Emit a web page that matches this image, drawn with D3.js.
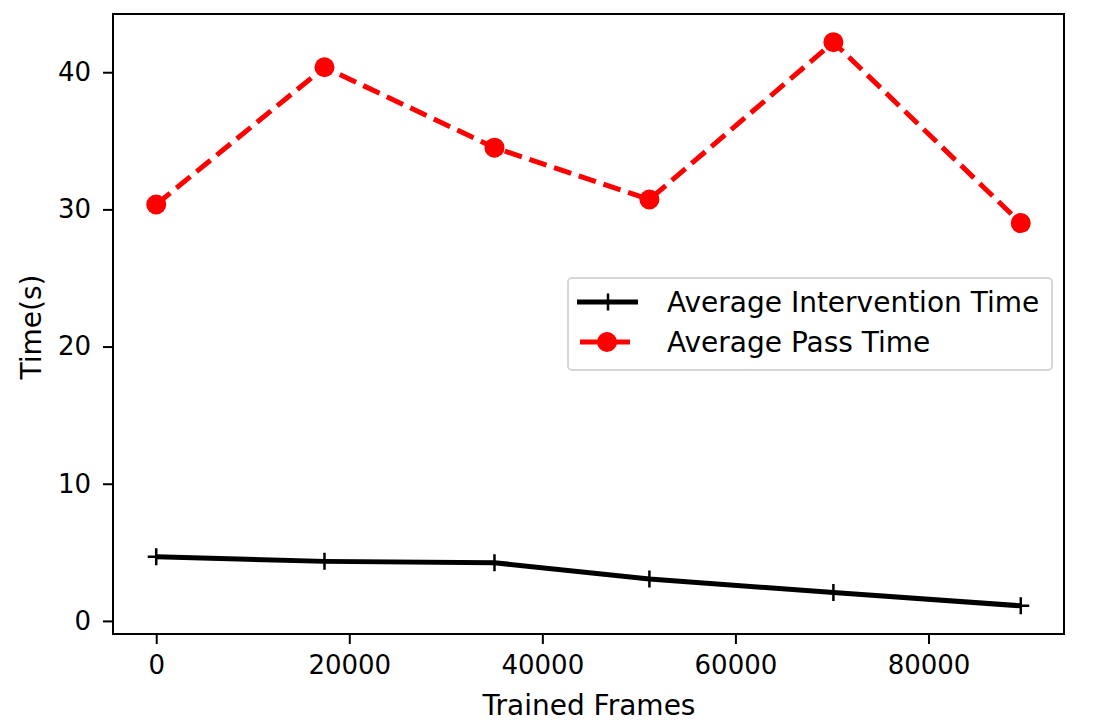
<!DOCTYPE html>
<html lang="en">
<head>
  <meta charset="UTF-8">
  <title>Average Time vs Trained Frames</title>
  <script src="https://d3js.org/d3.v7.min.js"></script>
  <style>
    body { margin: 0; background: #fff; }
    svg { font-family: "DejaVu Sans", sans-serif; }
    .axis text { font-family: "DejaVu Sans", sans-serif; font-size: 26px; fill: #000; }
    .axis path { display: none; }
    .axis line { stroke: #000; stroke-width: 2px; }
    .label { font-size: 28px; fill: #000; }
    .legend text { font-size: 28px; fill: #000; }
  </style>
</head>
<body>
  <svg id="chart"></svg>
  <script>
    // data
    const frames = [0, 17430, 35040, 51090, 70150, 89560];
    const interventionTime = [4.68, 4.34, 4.24, 3.05, 2.07, 1.10];
    const passTime = [30.36, 40.36, 34.5, 30.72, 42.19, 29.0];
    const xTicks = [0, 20000, 40000, 60000, 80000];
    const yTicks = [0, 10, 20, 30, 40];

    const W = 1104, H = 722;
    const margin = { top: 14, right: 40, bottom: 88, left: 113 };
    const width = W - margin.left - margin.right;
    const height = H - margin.top - margin.bottom;

    const svg = d3.select("#chart")
      .attr("width", W)
      .attr("height", H);

    const g = svg.append("g")
      .attr("transform", "translate(" + margin.left + "," + margin.top + ")");

    // matplotlib-style 5% margins
    const xPad = (d3.max(frames) - d3.min(frames)) * 0.05;
    const allY = interventionTime.concat(passTime);
    const yPad = (d3.max(allY) - d3.min(allY)) * 0.05;

    const x = d3.scaleLinear()
      .domain([d3.min(frames) - xPad, d3.max(frames) + xPad])
      .range([0, width]);

    const y = d3.scaleLinear()
      .domain([d3.min(allY) - yPad, d3.max(allY) + yPad])
      .range([height, 0]);

    // axes
    g.append("g")
      .attr("class", "axis")
      .attr("transform", "translate(0," + height + ")")
      .call(d3.axisBottom(x).tickValues(xTicks).tickFormat(d3.format("d")).tickSize(10).tickPadding(12));

    g.append("g")
      .attr("class", "axis")
      .call(d3.axisLeft(y).tickValues(yTicks).tickFormat(d3.format("d")).tickSize(10).tickPadding(12));

    // frame
    g.append("rect")
      .attr("width", width)
      .attr("height", height)
      .attr("fill", "none")
      .attr("stroke", "#000")
      .attr("stroke-width", 2);

    const line = d3.line()
      .x(d => x(d[0]))
      .y(d => y(d[1]));

    const blackPts = frames.map((f, i) => [f, interventionTime[i]]);
    const redPts = frames.map((f, i) => [f, passTime[i]]);

    // intervention time: solid black with plus markers
    g.append("path")
      .datum(blackPts)
      .attr("d", line)
      .attr("fill", "none")
      .attr("stroke", "#000")
      .attr("stroke-width", 5)
      .attr("stroke-linejoin", "round");

    g.selectAll(".plus")
      .data(blackPts)
      .enter().append("path")
      .attr("class", "plus")
      .attr("d", d => {
        const cx = x(d[0]), cy = y(d[1]), s = 8.5;
        return "M" + (cx - s) + "," + cy + "H" + (cx + s) + "M" + cx + "," + (cy - s) + "V" + (cy + s);
      })
      .attr("stroke", "#000")
      .attr("stroke-width", 2.5);

    // pass time: dashed red with circles
    g.append("path")
      .datum(redPts)
      .attr("d", line)
      .attr("fill", "none")
      .attr("stroke", "#ff0000")
      .attr("stroke-width", 5)
      .attr("stroke-dasharray", "18,8");

    g.selectAll(".dot")
      .data(redPts)
      .enter().append("circle")
      .attr("class", "dot")
      .attr("cx", d => x(d[0]))
      .attr("cy", d => y(d[1]))
      .attr("r", 10)
      .attr("fill", "#ff0000");

    // axis labels
    svg.append("text")
      .attr("class", "label")
      .attr("x", 589)
      .attr("y", 715)
      .attr("text-anchor", "middle")
      .text("Trained Frames");

    svg.append("text")
      .attr("class", "label")
      .attr("transform", "translate(41,327) rotate(-90)")
      .attr("text-anchor", "middle")
      .text("Time(s)");

    // legend
    const legend = svg.append("g")
      .attr("class", "legend")
      .attr("transform", "translate(568,278)");

    legend.append("rect")
      .attr("width", 484)
      .attr("height", 92)
      .attr("rx", 4)
      .attr("fill", "#fff")
      .attr("fill-opacity", 0.8)
      .attr("stroke", "#d6d6d6")
      .attr("stroke-width", 2);

    const items = [
      { name: "Average Intervention Time", color: "#000", x1: 9, x2: 70, marker: "plus" },
      { name: "Average Pass Time", color: "#ff0000", x1: 12, x2: 62, marker: "circle" }
    ];

    items.forEach((it, i) => {
      const ly = 24 + i * 40;
      legend.append("line")
        .attr("x1", it.x1).attr("x2", it.x2)
        .attr("y1", ly).attr("y2", ly)
        .attr("stroke", it.color)
        .attr("stroke-width", 5);
      if (it.marker === "plus") {
        legend.append("path")
          .attr("d", "M40,"+ (ly - 8.5) + "V" + (ly + 8.5))
          .attr("stroke", it.color)
          .attr("stroke-width", 2.5);
      } else {
        legend.append("circle")
          .attr("cx", 39).attr("cy", ly).attr("r", 10)
          .attr("fill", it.color);
      }
      legend.append("text")
        .attr("x", 99)
        .attr("y", ly)
        .attr("dy", "0.35em")
        .text(it.name);
    });
  </script>
</body>
</html>
